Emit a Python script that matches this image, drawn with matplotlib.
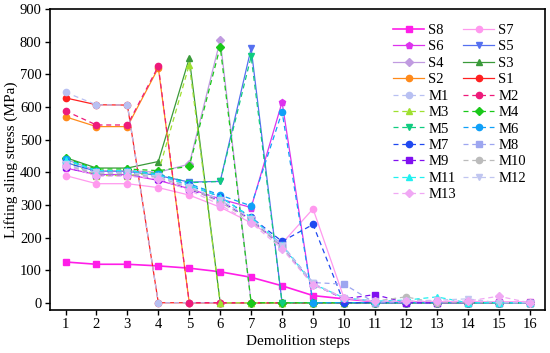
import matplotlib
matplotlib.use("Agg")
import matplotlib.pyplot as plt

steps = list(range(1, 17))

# Solid series (S)
S8 = [125, 118, 118, 113, 106, 95, 78, 52, 22, 12, 3, 2, 1, 1, 1, 1]
S7 = [390, 365, 365, 353, 330, 293, 245, 182, 288, 15, 3, 2, 1, 1, 1, 1]
S6 = [413, 393, 393, 375, 350, 318, 292, 615, 0, 0, 0, 0, 0, 0, 0, 0]
S5 = [430, 403, 403, 390, 370, 372, 780, 0, 0, 0, 0, 0, 0, 0, 0, 0]
S4 = [440, 405, 405, 400, 425, 805, 0, 0, 0, 0, 0, 0, 0, 0, 0, 0]
S3 = [445, 413, 413, 433, 750, 0, 0, 0, 0, 0, 0, 0, 0, 0, 0, 0]
S2 = [570, 540, 540, 720, 0, 0, 0, 0, 0, 0, 0, 0, 0, 0, 0, 0]
S1 = [628, 607, 606, 0, 0, 0, 0, 0, 0, 0, 0, 0, 0, 0, 0, 0]

# Dashed series (M)
M1 = [645, 607, 606, 0, 0, 0, 0, 0, 0, 0, 0, 0, 0, 0, 0, 0]
M2 = [588, 545, 545, 725, 0, 0, 0, 0, 0, 0, 0, 0, 0, 0, 0, 0]
M3 = [435, 390, 390, 400, 730, 0, 0, 0, 0, 0, 0, 0, 0, 0, 0, 0]
M4 = [443, 410, 410, 405, 418, 785, 0, 0, 0, 0, 0, 0, 0, 0, 0, 0]
M5 = [438, 405, 405, 395, 368, 372, 755, 0, 0, 0, 0, 0, 0, 0, 0, 0]
M6 = [440, 405, 405, 395, 365, 330, 297, 585, 0, 0, 0, 0, 0, 0, 0, 0]
M7 = [430, 400, 400, 390, 360, 325, 262, 188, 240, 0, 0, 0, 0, 0, 0, 0]
M8 = [425, 395, 395, 385, 355, 315, 258, 178, 62, 57, 0, 0, 0, 0, 0, 0]
M9 = [415, 392, 392, 378, 348, 312, 255, 172, 57, 12, 25, 0, 0, 0, 0, 0]
M10 = [420, 395, 395, 385, 352, 308, 252, 170, 55, 15, 5, 18, 0, 0, 0, 0]
M11 = [438, 405, 405, 392, 360, 325, 262, 176, 58, 15, 5, 8, 18, 0, 0, 0]
M12 = [425, 400, 400, 388, 356, 315, 258, 175, 60, 15, 5, 5, 8, 12, 0, 0]
M13 = [420, 388, 388, 380, 345, 300, 245, 165, 55, 15, 5, 5, 5, 5, 20, 0]

s_names = ["S8", "S7", "S6", "S5", "S4", "S3", "S2", "S1"]
s_data = [S8, S7, S6, S5, S4, S3, S2, S1]
s_colors = ["#FF1EE8", "#FF99EE", "#DD33EE", "#5570F0", "#C09BE0", "#3A9A3A", "#FF8A1A", "#FF2020"]
s_markers = ["s", "o", "p", "v", "D", "^", "o", "o"]

m_names = ["M%d" % i for i in range(1, 14)]
m_data = [M1, M2, M3, M4, M5, M6, M7, M8, M9, M10, M11, M12, M13]
m_colors = ["#B8C0F2", "#EE1A7A", "#9FE030", "#19C819", "#10CC80", "#10A0F8", "#1F48F0",
            "#9DA6F0", "#8010F0", "#BBBBBB", "#20F0F0", "#C0C6F0", "#F0A8F4"]
m_markers = ["o", "o", "^", "D", "v", "o", "o", "s", "s", "o", "^", "v", "D"]

plt.rcParams['font.family'] = ['Liberation Serif', 'DejaVu Serif']

fig = plt.figure(figsize=(5.5, 3.53), dpi=100)
ax = fig.add_axes([0.091, 0.122, 0.900, 0.852])

handles = {}
for name, d, c, mk in zip(s_names, s_data, s_colors, s_markers):
    ms = {"p": 5, "D": 4, "s": 4.5}.get(mk, 4.5)
    lw = 1.2 if name == "S8" else 0.9
    h, = ax.plot(steps, d, color=c, marker=mk, markersize=ms,
                 linewidth=lw, linestyle='-', label=name)
    handles[name] = h
for name, d, c, mk in zip(m_names, m_data, m_colors, m_markers):
    ms = {"D": 4, "s": 4.2}.get(mk, 4.5)
    h, = ax.plot(steps, d, color=c, marker=mk, markersize=ms,
                 linewidth=0.9, linestyle=(0, (4, 3)), label=name)
    handles[name] = h

ax.set_xlim(0.5, 16.5)
ax.set_ylim(-22, 900)
ax.set_xticks(steps)
ax.set_yticks(range(0, 901, 100))
ax.tick_params(direction='out', length=3.5, width=1, labelsize=10.5, pad=2.5)
for sp in ax.spines.values():
    sp.set_linewidth(1.2)
ax.set_xlabel("Demolition steps", fontsize=11, labelpad=3)
ax.set_ylabel("Lifting sling stress (MPa)", fontsize=11, labelpad=1)

col1 = ["S8", "S6", "S4", "S2", "M1", "M3", "M5", "M7", "M9", "M11", "M13"]
col2 = ["S7", "S5", "S3", "S1", "M2", "M4", "M6", "M8", "M10", "M12"]
order = col1 + col2
leg = ax.legend([handles[n] for n in order], order, ncol=2, frameon=False,
                loc='upper right', bbox_to_anchor=(0.985, 0.99), fontsize=10.5,
                handlelength=2.1, handletextpad=0.3, columnspacing=0.5,
                labelspacing=0.22, borderpad=0.3)

fig.savefig("out.png", dpi=100)
